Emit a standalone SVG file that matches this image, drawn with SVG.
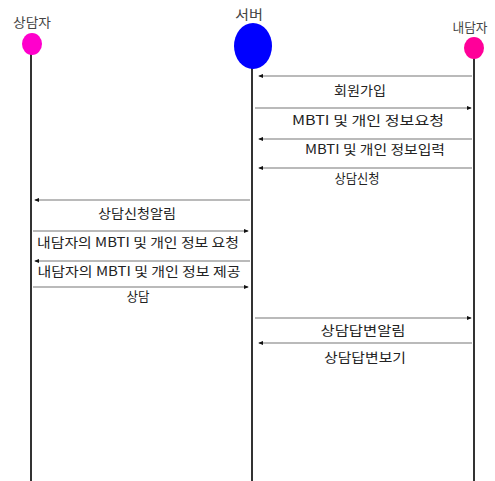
<svg xmlns="http://www.w3.org/2000/svg" width="495" height="481" viewBox="0 0 495 481">
<style>
.t{font-family:"Noto Sans CJK KR","Liberation Sans",sans-serif;font-size:13px;fill:#222;text-anchor:middle}
.h{font-family:"Noto Sans CJK KR","Liberation Sans",sans-serif;font-size:13px;fill:#444;text-anchor:middle}
.life{stroke:#333;stroke-width:2;fill:none}
.msg{stroke:#777;stroke-width:1.2;fill:none;marker-end:url(#ah)}
</style>
<defs>
<marker id="ah" viewBox="0 0 6 6" refX="5" refY="3" markerWidth="5" markerHeight="5" orient="auto" markerUnits="userSpaceOnUse">
<path d="M0,0.5 L6,3 L0,5.5 z" fill="#111"/>
</marker>
</defs>
<rect width="495" height="481" fill="#fff"/>
<g id="counselor">
<text class="h" x="32" y="27" textLength="38" lengthAdjust="spacingAndGlyphs">상담자</text>
<line class="life" x1="31" y1="54" x2="31" y2="481"/>
<ellipse cx="32" cy="44" rx="10" ry="11" fill="#ff00cc"/>
</g>
<g id="server">
<text class="h" x="249" y="19" textLength="28" lengthAdjust="spacingAndGlyphs">서버</text>
<line class="life" x1="252" y1="66" x2="252" y2="481"/>
<ellipse cx="253" cy="46" rx="19" ry="23" fill="#0000ff"/>
</g>
<g id="client">
<text class="h" x="470" y="32" textLength="35" lengthAdjust="spacingAndGlyphs">내담자</text>
<line class="life" x1="474" y1="57" x2="474" y2="481"/>
<ellipse cx="474" cy="48" rx="10" ry="11" fill="#ff0099"/>
</g>
<g id="connectors">
<line class="msg" x1="472" y1="76" x2="259" y2="76"/>
<text class="t" x="360" y="95" textLength="52" lengthAdjust="spacingAndGlyphs">회원가입</text>
<line class="msg" x1="255" y1="108" x2="471" y2="108"/>
<text class="t" x="368" y="125" textLength="152" lengthAdjust="spacingAndGlyphs">MBTI 및 개인 정보요청</text>
<line class="msg" x1="472" y1="139" x2="259" y2="139"/>
<text class="t" x="375" y="154" textLength="140" lengthAdjust="spacingAndGlyphs">MBTI 및 개인 정보입력</text>
<line class="msg" x1="472" y1="168" x2="259" y2="168"/>
<text class="t" x="357" y="183" textLength="45" lengthAdjust="spacingAndGlyphs">상담신청</text>
<line class="msg" x1="250" y1="200" x2="35" y2="200"/>
<text class="t" x="137" y="218" textLength="78" lengthAdjust="spacingAndGlyphs">상담신청알림</text>
<line class="msg" x1="33" y1="231" x2="248" y2="231"/>
<text class="t" x="138" y="247" textLength="202" lengthAdjust="spacingAndGlyphs">내담자의 MBTI 및 개인 정보 요청</text>
<line class="msg" x1="250" y1="261" x2="35" y2="261"/>
<text class="t" x="139" y="276" textLength="203" lengthAdjust="spacingAndGlyphs">내담자의 MBTI 및 개인 정보 제공</text>
<line class="msg" x1="33" y1="287" x2="248" y2="287"/>
<text class="t" x="138" y="301" textLength="23" lengthAdjust="spacingAndGlyphs">상담</text>
<line class="msg" x1="255" y1="318" x2="471" y2="318"/>
<text class="t" x="363" y="335" textLength="85" lengthAdjust="spacingAndGlyphs">상담답변알림</text>
<line class="msg" x1="472" y1="343" x2="259" y2="343"/>
<text class="t" x="365" y="362" textLength="82" lengthAdjust="spacingAndGlyphs">상담답변보기</text>
</g>
</svg>
